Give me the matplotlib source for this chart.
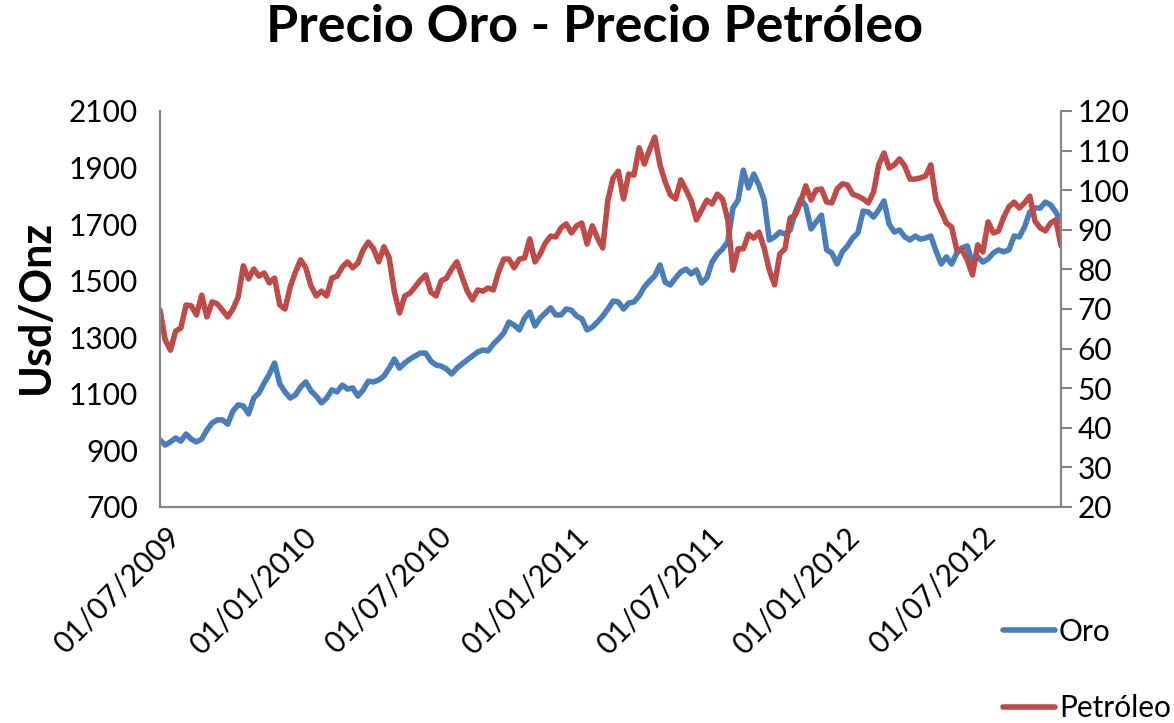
import matplotlib
matplotlib.use('Agg')
import matplotlib.pyplot as plt
import matplotlib.dates as mdates
import pandas as pd

# ---- data (weekly readings) ----
start_date = '2009-06-24'
n_weeks = 174

oro = [937, 919, 930, 944, 933, 958, 940, 930, 940, 972,
       997, 1008, 1008, 993, 1039, 1061, 1057, 1029, 1085, 1103,
       1138, 1170, 1209, 1135, 1107, 1085, 1096, 1124, 1142, 1110,
       1092, 1068, 1085, 1114, 1107, 1131, 1117, 1121, 1092, 1114,
       1145, 1142, 1149, 1163, 1191, 1223, 1191, 1209, 1223, 1234,
       1244, 1244, 1216, 1202, 1198, 1188, 1170, 1191, 1206, 1220,
       1234, 1248, 1255, 1252, 1276, 1294, 1315, 1354, 1343, 1326,
       1368, 1389, 1340, 1368, 1386, 1404, 1379, 1379, 1400, 1396,
       1375, 1365, 1326, 1336, 1354, 1375, 1400, 1428, 1425, 1400,
       1421, 1425, 1446, 1478, 1499, 1517, 1556, 1495, 1485, 1510,
       1531, 1541, 1524, 1538, 1492, 1510, 1566, 1594, 1612, 1637,
       1757, 1785, 1891, 1828, 1877, 1838, 1785, 1644, 1655, 1672,
       1665, 1679, 1743, 1789, 1764, 1683, 1708, 1732, 1609, 1598,
       1559, 1602, 1623, 1651, 1669, 1746, 1743, 1725, 1750, 1782,
       1700, 1672, 1679, 1655, 1644, 1658, 1647, 1651, 1658, 1605,
       1559, 1584, 1559, 1598, 1616, 1623, 1559, 1584, 1566, 1577,
       1598, 1609, 1602, 1609, 1658, 1655, 1690, 1743, 1757, 1757,
       1778, 1768, 1743, 1708]

petroleo = [69.7, 62.2, 59.6, 64.4, 65.2, 71.0, 70.8, 68.5, 73.5, 68.0,
            71.8, 71.3, 69.7, 68.0, 70.0, 73.0, 80.9, 77.6, 80.1, 78.3,
            79.1, 76.6, 77.8, 71.0, 70.0, 75.6, 79.3, 82.4, 80.4, 75.8,
            73.3, 74.5, 73.3, 77.8, 78.3, 80.6, 81.9, 80.4, 81.6, 84.9,
            86.9, 85.2, 81.9, 85.7, 82.9, 74.3, 69.0, 73.3, 74.0, 75.6,
            77.3, 78.6, 74.3, 73.3, 77.1, 77.8, 80.1, 81.9, 78.1, 74.5,
            72.3, 74.8, 74.5, 75.3, 74.8, 79.3, 82.6, 82.6, 80.4, 82.6,
            82.9, 87.7, 81.9, 83.9, 86.7, 88.4, 88.2, 90.5, 91.5, 89.2,
            91.0, 91.7, 86.4, 91.0, 87.9, 85.4, 97.5, 103.1, 104.8, 97.8,
            104.1, 103.8, 110.7, 106.6, 110.2, 113.4, 106.4, 102.1, 98.8, 97.8,
            102.6, 100.1, 97.3, 92.5, 95.0, 97.5, 96.5, 99.0, 97.8, 92.7,
            79.8, 85.2, 85.2, 88.9, 87.9, 89.4, 85.4, 79.8, 76.1, 83.9,
            85.2, 93.0, 93.7, 97.0, 101.1, 97.5, 100.1, 100.3, 97.0, 96.8,
            100.3, 101.6, 101.3, 99.0, 98.5, 97.8, 96.8, 99.5, 106.4, 109.4,
            105.6, 106.4, 107.9, 106.1, 102.8, 102.8, 103.1, 103.6, 106.4, 97.5,
            94.7, 91.7, 90.7, 84.9, 84.9, 82.4, 78.6, 86.2, 84.4, 92.0,
            89.2, 89.7, 93.2, 95.8, 97.0, 95.5, 96.8, 98.5, 92.2, 90.5,
            89.7, 91.7, 92.5, 86.0]

tick_dates = ['2009-07-01', '2010-01-01', '2010-07-01', '2011-01-01',
              '2011-07-01', '2012-01-01', '2012-07-01']
tick_labels = ['01/07/2009', '01/01/2010', '01/07/2010', '01/01/2011',
               '01/07/2011', '01/01/2012', '01/07/2012']
left_ticks = [700, 900, 1100, 1300, 1500, 1700, 1900, 2100]
right_ticks = [20, 30, 40, 50, 60, 70, 80, 90, 100, 110, 120]

title = 'Precio Oro - Precio Petróleo'
ylabel = 'Usd/Onz'
series_names = ['Oro', 'Petróleo']

# ---- style ----
plt.rcParams['font.family'] = ['Lato', 'DejaVu Sans']
BLUE = '#4A7EBB'
RED = '#BE4B48'
GRAY = '#868686'
LW = 4.0
FS = 21.5

dates = pd.date_range(start_date, periods=n_weeks, freq='7D')

fig = plt.figure(figsize=(11.74, 7.23), dpi=100)
ax = fig.add_axes([160/1174, 1-507/723, (1061-160)/1174, (507-111)/723])
ax2 = ax.twinx()

l1, = ax.plot(dates, oro, color=BLUE, lw=LW, solid_joinstyle='round',
              solid_capstyle='round')
l2, = ax2.plot(dates, petroleo, color=RED, lw=LW, solid_joinstyle='round',
               solid_capstyle='round')

ax.set_ylim(700, 2100)
ax2.set_ylim(20, 120)
ax.set_yticks(left_ticks)
ax2.set_yticks(right_ticks)
ax.set_xlim(dates[0], dates[-1])
ax.set_xticks(pd.to_datetime(tick_dates))
ax.set_xticklabels(tick_labels, rotation=45, ha='right', va='top',
                   rotation_mode='anchor', fontsize=FS)

for a in (ax, ax2):
    a.patch.set_visible(False)
    a.spines['top'].set_visible(False)
    for s in ('left', 'right', 'bottom'):
        a.spines[s].set_color(GRAY)
        a.spines[s].set_linewidth(1.5)

ax.tick_params(axis='y', length=0, pad=16, labelsize=FS)
ax.tick_params(axis='x', length=0, pad=11)
ax2.tick_params(axis='y', length=8, width=1.5, color=GRAY, pad=4, labelsize=FS)

ax.set_ylabel(ylabel, fontsize=31, fontweight='bold', va='center', ha='center')
ax.yaxis.set_label_coords((36-160)/901, 0.505)

fig.text(595/1174, 1-28/723, title, ha='center', va='center',
         fontsize=37.5, fontweight='bold')

leg = fig.legend([l1, l2], series_names, loc='upper left',
                 bbox_to_anchor=(988/1174, 1-603/723), frameon=False,
                 fontsize=FS, handlelength=1.75, handletextpad=0.13,
                 labelspacing=1.62, borderpad=0)

fig.savefig('out.png', dpi=100)
